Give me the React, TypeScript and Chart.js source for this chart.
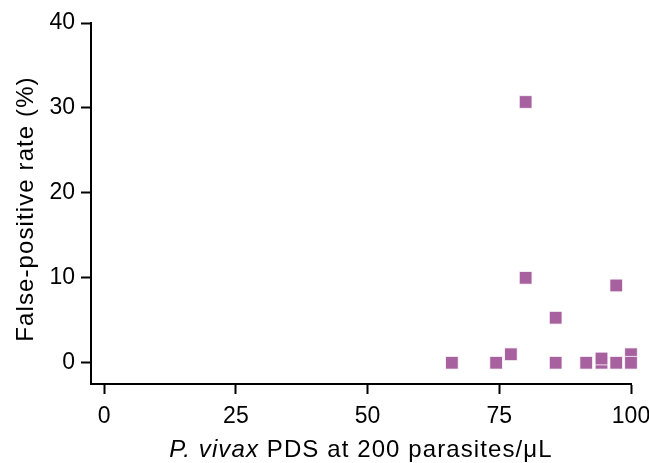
import React, { useEffect, useRef } from "react";
import { Chart, registerables } from "chart.js";

Chart.register(...registerables);

const xValues = [66, 74.4, 77.2, 80, 80, 85.7, 85.7, 91.5, 94.4, 94.4, 97.2, 97.2, 100, 100];
const yValues = [0, 0, 1, 30.7, 10, 5.3, 0, 0, 0, 0.5, 9.1, 0, 1, 0];
const xTicks = [0, 25, 50, 75, 100];
const yTicks = [0, 10, 20, 30, 40];
const xTitleItalic = "P. vivax";
const xTitleRest = " PDS at 200 parasites/μL";
const yTitle = "False-positive rate (%)";

const FONT = "'Liberation Sans', Arial, Helvetica, sans-serif";
const TICK_FS = 23;
const TITLE_FS = 24;

const titlesPlugin = {
  id: "titlesPlugin",
  afterDraw(chart: any) {
    const ctx = chart.ctx;
    const area = chart.chartArea;
    ctx.save();
    ctx.fillStyle = "#000";
    (ctx as any).letterSpacing = "1.1px";
    // x title
    const cx = (area.left + area.right) / 2;
    ctx.textBaseline = "alphabetic";
    ctx.textAlign = "left";
    ctx.font = `italic ${TITLE_FS}px ${FONT}`;
    const w1 = ctx.measureText(xTitleItalic).width;
    ctx.font = `${TITLE_FS}px ${FONT}`;
    const w2 = ctx.measureText(xTitleRest).width;
    const start = cx - (w1 + w2) / 2;
    ctx.font = `italic ${TITLE_FS}px ${FONT}`;
    ctx.fillText(xTitleItalic, start, 457);
    ctx.font = `${TITLE_FS}px ${FONT}`;
    ctx.fillText(xTitleRest, start + w1, 457);
    // y title
    ctx.translate(33, 209);
    ctx.rotate(-Math.PI / 2);
    ctx.textAlign = "center";
    ctx.fillText(yTitle, 0, 0);
    ctx.restore();
  },
};

export default function App() {
  const ref = useRef<HTMLCanvasElement | null>(null);
  useEffect(() => {
    document.body.style.margin = "0";
    const canvas = ref.current!;
    const chart = new Chart(canvas, {
      type: "scatter",
      data: {
        datasets: [
          {
            data: xValues.map((x, i) => ({ x, y: yValues[i] })),
            pointStyle: "rect",
            pointRadius: 9,
            pointHoverRadius: 9,
            backgroundColor: "#a7619f",
            borderColor: "rgba(255,255,255,0.8)",
            borderWidth: 1,
            clip: false,
          },
        ],
      },
      options: {
        animation: false,
        responsive: false,
        maintainAspectRatio: false,
        layout: { padding: { left: 0, right: 18, top: 23, bottom: 0 } },
        plugins: {
          legend: { display: false },
          tooltip: { enabled: false },
        },
        scales: {
          x: {
            type: "linear",
            min: -2.5,
            max: 100,
            afterBuildTicks: (s: any) => {
              s.ticks = xTicks.map((v) => ({ value: v }));
            },
            afterFit: (s: any) => {
              s.height = 79;
              s.paddingRight = 0;
              s.paddingLeft = 0;
            },
            grid: {
              drawOnChartArea: false,
              drawTicks: true,
              tickLength: 10,
              tickWidth: 2,
              tickColor: "#000",
            },
            border: { display: true, color: "#000", width: 2 },
            ticks: {
              color: "#000",
              font: { family: FONT, size: TICK_FS },
              padding: 9,
              maxRotation: 0,
            },
          },
          y: {
            type: "linear",
            min: -2.5,
            max: 40,
            afterBuildTicks: (s: any) => {
              s.ticks = yTicks.map((v) => ({ value: v }));
            },
            afterFit: (s: any) => {
              s.width = 91;
            },
            grid: {
              drawOnChartArea: false,
              drawTicks: true,
              tickLength: 10,
              tickWidth: 2,
              tickColor: "#000",
            },
            border: { display: true, color: "#000", width: 2 },
            ticks: {
              color: "#000",
              font: { family: FONT, size: TICK_FS },
              padding: 6,
            },
          },
        },
      },
      plugins: [titlesPlugin],
    });
    return () => chart.destroy();
  }, []);
  return (
    <div style={{ width: 649, height: 463 }}>
      <canvas ref={ref} width={649} height={463} style={{ display: "block" }} />
    </div>
  );
}
